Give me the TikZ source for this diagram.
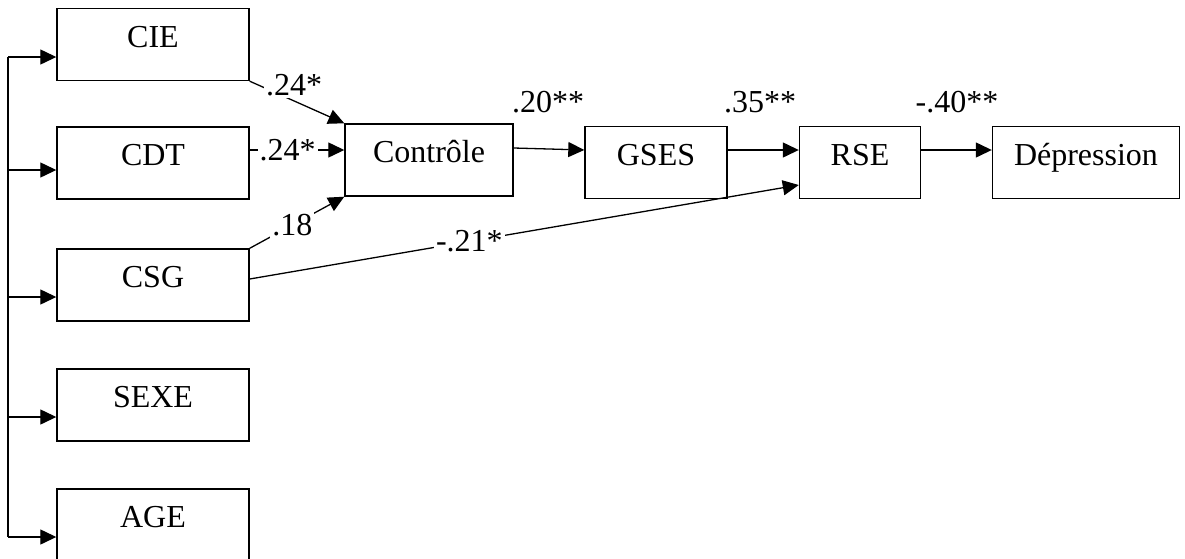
\documentclass[tikz,border=0pt]{standalone}
\usepackage{fontspec}
\setmainfont{Liberation Serif}
\usetikzlibrary{arrows.meta}

\begin{document}
\begin{tikzpicture}[x=0.5pt,y=-0.5pt,
    box/.style={draw, line width=0.7pt, minimum height=36pt, inner sep=0pt, text height=0.7em, text depth=0.45em, font=\fontsize{16}{19}\selectfont},
    arr/.style={line width=0.65pt, -{Triangle[length=8pt,width=7.5pt]}},
    lbl/.style={fill=white, inner sep=1pt, font=\fontsize{16}{19}\selectfont}]
    \useasboundingbox (0,0) rectangle (1185,558);

    % predictors
    \node[box, minimum width=96pt] (cie) at (153,44.5) {CIE};
    \node[box, minimum width=96pt] (cdt) at (153,163) {CDT};
    \node[box, minimum width=96pt] (csg) at (153,285) {CSG};
    \node[box, minimum width=96pt] (sexe) at (153,405) {SEXE};
    \node[box, minimum width=96pt] (age) at (153,525) {AGE};

    % chain
    \node[box, minimum width=84pt] (ctrl) at (429,160) {Contrôle};
    \node[box, minimum width=71pt] (gses) at (656,162.5) {GSES};
    \node[box, minimum width=60.5pt] (rse) at (860,162.5) {RSE};
    \node[box, minimum width=93.5pt] (dep) at (1086,162.5) {Dépression};

    % left bus
    \coordinate (bustop) at (8,57);
    \coordinate (busbot) at (8,537);
    \draw[line width=0.65pt] (bustop) -- (busbot);
    \foreach \n/\y in {cie/57, cdt/170, csg/297, sexe/417, age/537}
        \draw[arr] (8,\y) coordinate (b\n) -- (\n.west |- b\n);

    % paths
    \draw[arr] (cie.south east) -- node[lbl, pos=0.47, yshift=8pt] (l1) {.24*} (ctrl.north west);
    \draw[arr] ([yshift=6.5pt]cdt.east) -- node[lbl, pos=0.4] (l2) {.24*} ([yshift=5pt]ctrl.west);
    \draw[arr] (csg.north east) -- node[lbl, pos=0.45] (l3) {.18} (ctrl.south west);
    \draw[arr] ([yshift=3pt]csg.east) -- node[lbl, pos=0.4] (l4) {-.21*} ([yshift=-11.25pt]rse.west);
    \draw[arr] ([yshift=6pt]ctrl.east) -- ([yshift=6.25pt]gses.west);
    \draw[arr] ([yshift=6.25pt]gses.east) -- ([yshift=6.25pt]rse.west);
    \draw[arr] ([yshift=6.25pt]rse.east) -- ([yshift=6.25pt]dep.west);

    \node[lbl] (l20) at (548,102) {.20**};
    \node[lbl] (l35) at (760,102) {.35**};
    \node[lbl] (l40) at (957,102) {-.40**};
\end{tikzpicture}
\end{document}
